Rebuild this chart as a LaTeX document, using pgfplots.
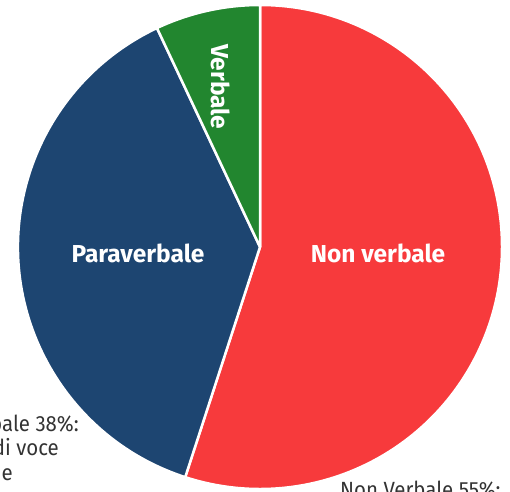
\documentclass[border=0pt]{standalone}
\usepackage{pgfplots}
\pgfplotsset{compat=1.18}
\usepackage{fontspec}
\setmainfont{Fira Sans}
\newfontfamily\lblfont{Fira Sans}[FakeStretch=0.93]
\definecolor{nvred}{HTML}{F73A3C}
\definecolor{pvblue}{HTML}{1D4571}
\definecolor{vgreen}{HTML}{22862F}
\definecolor{txtgray}{HTML}{333333}
\begin{document}
\begin{tikzpicture}
\useasboundingbox (0,0) rectangle (510pt,491pt);
\clip (0,0) rectangle (510pt,491pt);
\begin{axis}[
  at={(0,0)}, anchor=south west,
  x=1pt, y=1pt, scale only axis,
  xmin=0, xmax=510, ymin=0, ymax=491,
  hide axis, clip=false,
]
% Shares: Non verbale 55% (198 deg), Paraverbale 38% (136.8 deg), Verbale 7% (25.2 deg)
\fill[nvred, draw=white, line width=2.5pt, line join=round]
  (axis cs:260,244) -- ++(90:242pt) arc[start angle=90, end angle=-108, radius=242pt] -- cycle;
\fill[pvblue, draw=white, line width=2.5pt, line join=round]
  (axis cs:260,244) -- ++(-108:242pt) arc[start angle=-108, end angle=-244.8, radius=242pt] -- cycle;
\fill[vgreen, draw=white, line width=2.5pt, line join=round]
  (axis cs:260,244) -- ++(-244.8:242pt) arc[start angle=-244.8, end angle=-270, radius=242pt] -- cycle;
\node[text=white, font=\fontsize{24.5}{28}\selectfont\bfseries] at (axis cs:138,238) {Paraverbale};
\node[text=white, font=\fontsize{24.5}{28}\selectfont\bfseries] at (axis cs:378,238) {Non verbale};
\node[text=white, font=\fontsize{24.5}{28}\selectfont\bfseries, rotate=-90] at (axis cs:221,404) {Verbale};
\node[inner sep=0pt, text=txtgray, font=\lblfont\fontsize{22}{25}\selectfont, anchor=base east] at (axis cs:79,60) {Paraverbale 38\%:};
\node[inner sep=0pt, text=txtgray, font=\lblfont\fontsize{22}{25}\selectfont, anchor=base east] at (axis cs:59,36) {tono di voce};
\node[inner sep=0pt, text=txtgray, font=\lblfont\fontsize{22}{25}\selectfont, anchor=base east] at (axis cs:13,11) {e};
\node[inner sep=0pt, text=txtgray, font=\lblfont\fontsize{22}{25}\selectfont, anchor=base west] at (axis cs:340,-6) {Non Verbale 55\%:};
\end{axis}
\end{tikzpicture}
\end{document}
